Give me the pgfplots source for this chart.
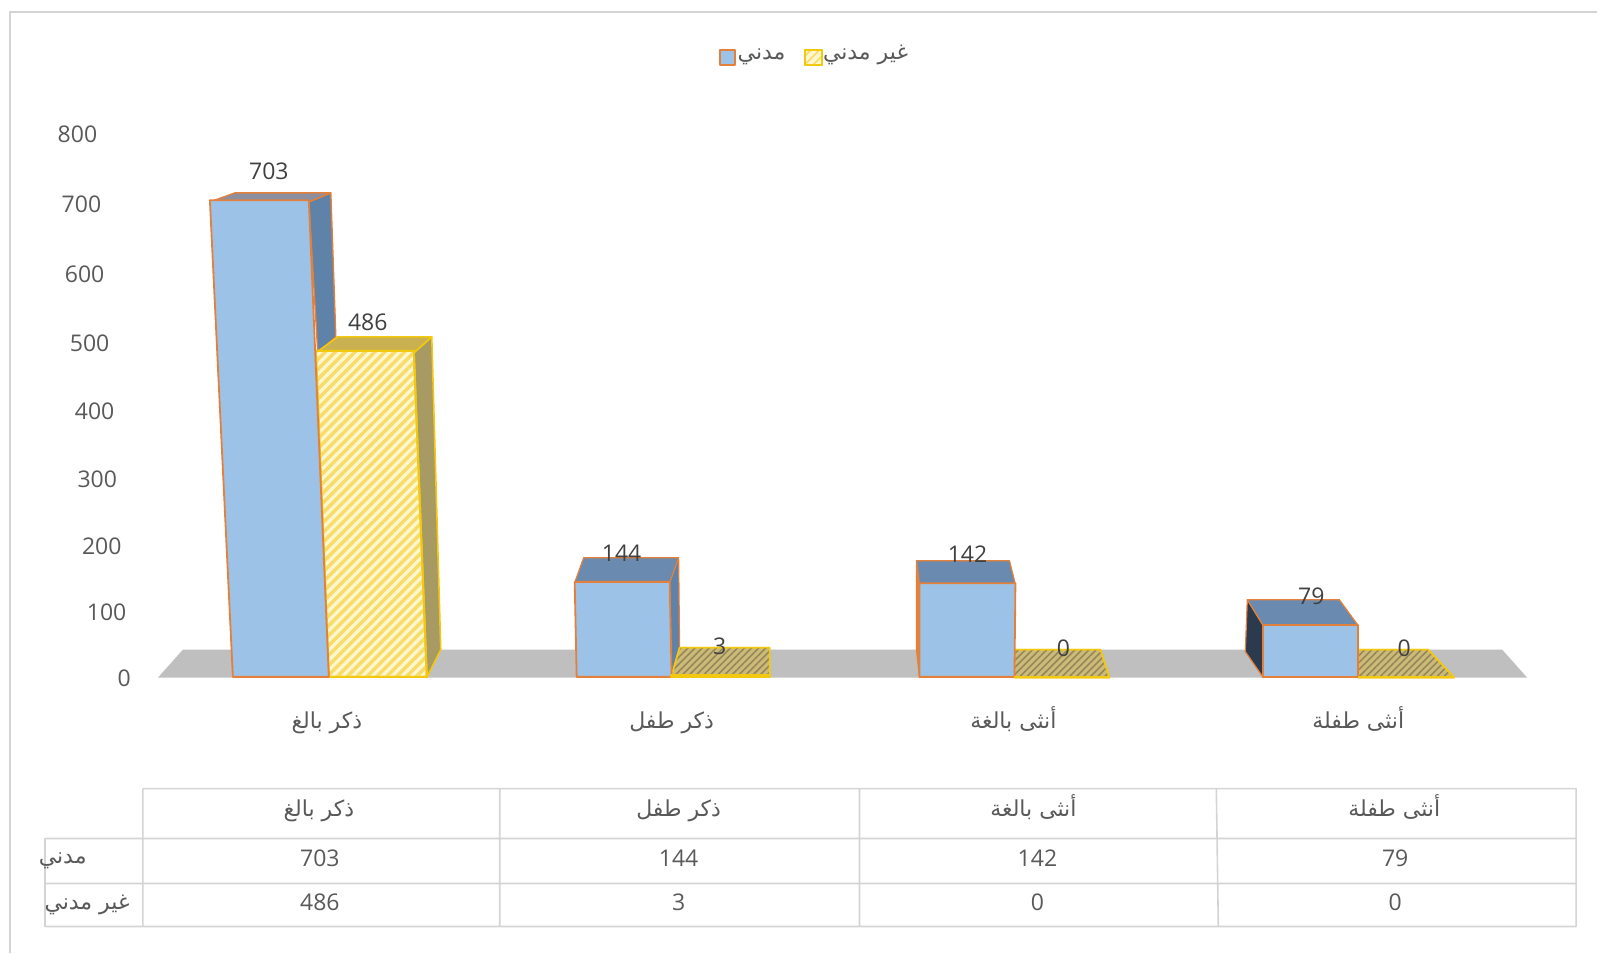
\documentclass[border=0pt]{standalone}
\usepackage{fontspec}
\usepackage{pgfplots}
\pgfplotsset{compat=1.18}
\usetikzlibrary{patterns.meta}
\setmainfont{Open Sans}
\newfontfamily\arabicfont[Script=Arabic]{DejaVu Sans}
\TeXXeTstate=1
\newcommand\arstrut{\rule[-5pt]{0pt}{19pt}}
\newcommand\yl[2]{\hspace*{#1pt}\llap{#2}}
\definecolor{txt}{HTML}{595959}
\definecolor{bluef}{HTML}{9CC2E8}
\definecolor{blues}{HTML}{5F82A8}
\definecolor{bluet}{HTML}{6A8BAF}
\definecolor{greyt}{HTML}{8C8F9F}
\definecolor{edgeo}{HTML}{E2803C}
\definecolor{yelf}{HTML}{FEF6CC}
\definecolor{yelh}{HTML}{F7DC6A}
\definecolor{yele}{HTML}{F2C811}
\definecolor{olive}{HTML}{A89A63}
\definecolor{olivet}{HTML}{C9B050}
\definecolor{floorf}{HTML}{CCBB78}
\definecolor{oliveh}{HTML}{95875A}
\definecolor{gridc}{HTML}{D4D4D4}
\tikzset{
  line join=round,
  hatchY/.style={preaction={fill=yelf},pattern={Lines[angle=45,distance=3.5pt,line width=1.7pt]},pattern color=yelh,draw=yele,line width=1pt},
  floorY/.style={preaction={fill=floorf},pattern={Lines[angle=45,distance=2.5pt,line width=0.8pt]},pattern color=oliveh,draw=yele,line width=0.8pt},
  blueF/.style={fill=bluef,draw=edgeo,line width=0.9pt},
}
\begin{document}
\begin{tikzpicture}[line join=round]
% pixel-aligned layer: frame, floor, depth faces, table, legend
\begin{axis}[name=base,at={(0,0)},anchor=south west,scale only axis,width=799pt,height=477pt,
  xmin=0,xmax=1598,ymin=0,ymax=954,y dir=reverse,hide axis,clip=false]
\draw[gridc,line width=0.9pt] (axis cs:10,954) -- (axis cs:10,12) -- (axis cs:1598,12);
\addplot[fill=black!25,draw=none] coordinates {(158,678)(183,650)(1503,650)(1528,678)} --cycle;
% bar 1 depth
\addplot[fill=blues,draw=edgeo,line width=0.7pt] coordinates {(309,202)(331,193)(336,337)(318,353)} --cycle;
\addplot[fill=greyt,draw=edgeo,line width=0.7pt] coordinates {(210,202)(235,193)(331,193)(309,202)} --cycle;
\addplot[fill=olive,draw=yele,line width=0.8pt] coordinates {(414,353)(432,337)(441,650)(427,678)} --cycle;
\addplot[fill=olivet,draw=yele,line width=0.8pt] coordinates {(316,353)(338,337)(432,337)(414,353)} --cycle;
% bar 2 depth
\addplot[fill=blues,draw=edgeo,line width=0.6pt] coordinates {(670,583)(679,558)(680,650)(672,678)} --cycle;
\addplot[fill=bluet,draw=edgeo,line width=0.6pt] coordinates {(575,583)(584,558)(679,558)(670,583)} --cycle;
\addplot[floorY] coordinates {(672,676)(680,648)(770,648)(770,676)} --cycle;
% bar 3 depth
\addplot[fill=edgeo,draw=edgeo,line width=0.6pt] coordinates {(917,561)(920,585)(920,678)(917,650)} --cycle;
\addplot[fill=bluet,draw=edgeo,line width=0.6pt] coordinates {(920,585)(917,561)(1010,561)(1016,585)} --cycle;
\addplot[floorY] coordinates {(1015,678)(1015,650)(1101,650)(1110,678)} --cycle;
% bar 4 depth
\addplot[fill=black!55!blues,draw=edgeo,line width=0.6pt] coordinates {(1248,600)(1264,626)(1264,678)(1246,652)} --cycle;
\addplot[fill=bluet,draw=edgeo,line width=0.6pt] coordinates {(1264,626)(1248,600)(1340,600)(1359,626)} --cycle;
\addplot[floorY] coordinates {(1359,678)(1359,650)(1429,650)(1455,678)} --cycle;
% data table
\draw[gridc,line width=0.8pt]
  (axis cs:143,789) -- (axis cs:1577,789) -- (axis cs:1577,927) -- (axis cs:45,927) -- (axis cs:45,839) -- (axis cs:1577,839)
  (axis cs:45,884) -- (axis cs:1577,884)
  (axis cs:143,789) -- (axis cs:143,927)
  (axis cs:500,789) -- (axis cs:500,927)
  (axis cs:860,789) -- (axis cs:860,927)
  (axis cs:1217,789) -- (axis cs:1219,927);
\tikzset{every node/.append style={text=txt,inner sep=0pt,font=\fontsize{11.5pt}{13pt}\selectfont}}
\node[font=\fontsize{11pt}{13pt}\selectfont] at (axis cs:319,808) {\arabicfont\arstrut\beginR ذكر بالغ\endR};
\node[font=\fontsize{11pt}{13pt}\selectfont] at (axis cs:679,808) {\arabicfont\arstrut\beginR ذكر طفل\endR};
\node[font=\fontsize{11pt}{13pt}\selectfont] at (axis cs:1034,808) {\arabicfont\arstrut\beginR أنثى بالغة\endR};
\node[font=\fontsize{11pt}{13pt}\selectfont] at (axis cs:1395,808) {\arabicfont\arstrut\beginR أنثى طفلة\endR};
\node[anchor=east,font=\fontsize{11pt}{13pt}\selectfont] at (axis cs:87,855) {\arabicfont\arstrut\beginR مدني\endR};
\node[anchor=east,font=\fontsize{11pt}{13pt}\selectfont] at (axis cs:130,901) {\arabicfont\arstrut\beginR غير مدني\endR};
\node at (axis cs:320,859) {703};
\node at (axis cs:679,859) {144};
\node at (axis cs:1038,859) {142};
\node at (axis cs:1396,859) {79};
\node at (axis cs:320,903) {486};
\node at (axis cs:679,903) {3};
\node at (axis cs:1038,903) {0};
\node at (axis cs:1396,903) {0};
% legend
\addplot[fill=bluef,draw=edgeo,line width=1pt] coordinates {(720,50)(735,50)(735,65)(720,65)} --cycle;
\addplot[hatchY,pattern={Lines[angle=45,distance=3pt,line width=0.8pt]}] coordinates {(805,50)(822,50)(822,65)(805,65)} --cycle;
\node[anchor=center,font=\fontsize{11pt}{13pt}\selectfont] at (axis cs:762,51) {\arabicfont\arstrut\beginR مدني\endR};
\node[anchor=center,font=\fontsize{11pt}{13pt}\selectfont] at (axis cs:866,51) {\arabicfont\arstrut\beginR غير مدني\endR};
\end{axis}
% data layer: values through a slightly perspective y scale
\begin{axis}[at={(0,0)},anchor=south west,scale only axis,width=799pt,height=477pt,
  xmin=0,xmax=1598,ymin=-430.8,ymax=987.7,
  y coord trafo/.code={\pgfmathparse{#1*(0.655+0.0000325*#1)}},
  axis line style={draw=none},tick style={draw=none},major tick length=0pt,
  axis x line*=bottom,axis y line*=left,
  xtick={327,672,1014,1359},
  xticklabels={{\arabicfont\arstrut\beginR ذكر بالغ\endR},{\arabicfont\arstrut\beginR ذكر طفل\endR},{\arabicfont\arstrut\beginR أنثى بالغة\endR},{\arabicfont\arstrut\beginR أنثى طفلة\endR}},
  xticklabel style={text=txt,yshift=126.5pt,inner sep=0pt,font=\fontsize{11pt}{13pt}\selectfont},
  ytick={0,100,200,300,400,500,600,700,800},
  yticklabels={\yl{65.2}{0},\yl{63}{100},\yl{60.6}{200},\yl{58.3}{300},\yl{57}{400},\yl{54.5}{500},\yl{52}{600},\yl{50.4}{700},\yl{48.4}{800}},
  yticklabel style={anchor=west,text=txt,inner sep=0pt,yshift=-0.7pt,font=\fontsize{11.5pt}{13pt}\selectfont},
  clip=false,
  nodes near coords style={anchor=center,yshift=14.3pt,text=black!75,inner sep=0pt,font=\fontsize{11.5pt}{13pt}\selectfont},
]
% series 2 (tall bar) and series 1: مدني = 703, 144, 142, 79
\addplot[hatchY] coordinates {(329,0)(316,486)(414,486)(427,0)} --cycle;
\addplot[blueF] coordinates {(233,0)(210,703)(309,703)(329,0)} --cycle;
\addplot[blueF] coordinates {(577,0)(575,144)(670,144)(672,0)} --cycle;
\addplot[blueF] coordinates {(920,0)(920,142)(1016,142)(1015,0)} --cycle;
\addplot[blueF] coordinates {(1264,0)(1264,79)(1359,79)(1359,0)} --cycle;
% series 2: غير مدني = 486, 3, 0, 0
\addplot[floorY,line width=1.2pt] coordinates {(672,0)(672,3)(770,3)(770,0)} --cycle;
\addplot[draw=yele,line width=1.2pt] coordinates {(1015,0)(1110,0)};
\addplot[draw=yele,line width=1.2pt] coordinates {(1359,0)(1455,0)};
% value labels
\addplot[draw=none,point meta=explicit symbolic,nodes near coords] table[meta=m] {
x y m
269 703 703
622 144 144
968 142 142
1312 79 79
};
\addplot[draw=none,point meta=explicit symbolic,nodes near coords] table[meta=m] {
x y m
368 486 486
720 3 3
1064 0 0
1405 0 0
};
\end{axis}
\end{tikzpicture}
\end{document}
